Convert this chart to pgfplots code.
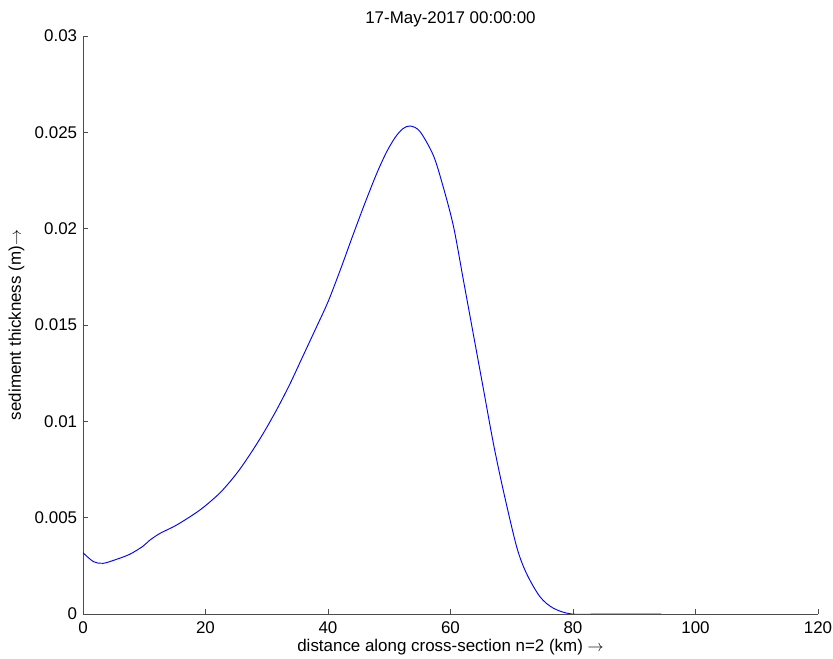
\documentclass[border=0pt]{standalone}
\usepackage{pgfplots}
\pgfplotsset{compat=1.18}
\usepackage{fontspec}
\setmainfont{Liberation Sans}

% sediment thickness profile along the cross-section
\pgfplotstableread{
x     y
0.0   0.00318
1.7   0.00272
3.3   0.00263
5.5   0.00284
7.7   0.00311
9.8   0.00352
10.9  0.00383
12.6  0.00419
15.3  0.00462
19.1  0.00540
22.4  0.00630
25.1  0.00730
27.3  0.00830
29.4  0.00936
31.6  0.01059
33.8  0.01195
36.0  0.01345
38.2  0.01495
40.0  0.01620
42.0  0.01785
44.0  0.01960
46.0  0.02130
48.0  0.02290
49.6  0.02400
51.0  0.02475
52.2  0.02518
53.4  0.02533
55.0  0.02505
57.2  0.02380
58.8  0.02218
60.5  0.02010
62.1  0.01734
63.7  0.01457
65.4  0.01163
67.0  0.00886
68.6  0.00644
70.8  0.00349
72.4  0.00211
74.6  0.00090
76.8  0.00030
79.8  0.00000
85.0  0.00000
90.0  0.00000
94.4  0.00000
}\sediment

\begin{document}
\begin{tikzpicture}
\fontsize{12.7}{15.2}\selectfont
\path[use as bounding box] (-62.25pt,-33.75pt) rectangle (562.5pt,460.5pt);
\begin{axis}[
  scale only axis,
  width=551.25pt, height=433.5pt,
  xmin=0, xmax=120, ymin=0, ymax=0.03,
  xtick={0,20,...,120},
  ytick={0,0.005,0.01,0.015,0.02,0.025,0.03},
  axis x line*=bottom, axis y line*=left,
  tick align=inside,
  major tick length=4pt,
  every tick/.style={black!70, line width=0.6pt},
  axis line style={black!70, line width=0.6pt},
  /pgf/number format/assume math mode=true,
  scaled y ticks=false,
  yticklabel style={/pgf/number format/fixed, /pgf/number format/precision=3},
  ticklabel style={font=\fontsize{12.7}{15.2}\selectfont},
  xticklabel style={yshift=-1pt},
  title={17-May-2017 00:00:00},
  title style={font=\fontsize{12.7}{15.2}\selectfont, yshift=-4pt},
  xlabel={distance along cross-section n=2 (km) $\rightarrow$},
  ylabel={sediment thickness (m)$\rightarrow$},
  label style={font=\fontsize{12.7}{15.2}\selectfont},
  xlabel style={yshift=4pt},
  ylabel style={yshift=-1pt},
]
\addplot[blue, line width=0.7pt, smooth, tension=0.5] table[x=x, y=y] {\sediment};
\end{axis}
\end{tikzpicture}
\end{document}
